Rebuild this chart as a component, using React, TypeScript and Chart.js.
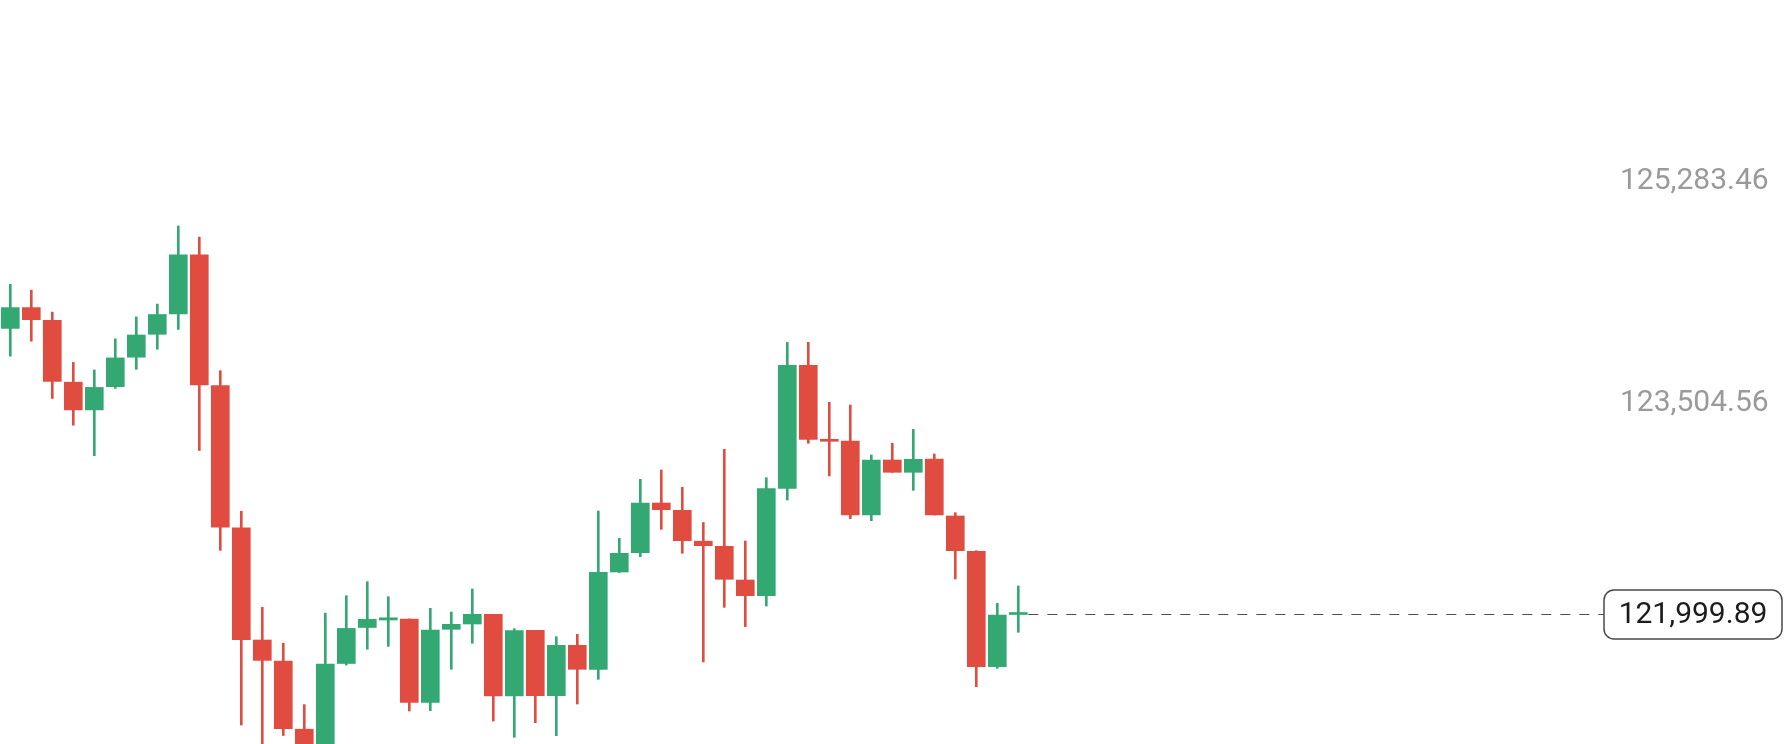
import React, { useEffect, useRef } from 'react';
import { Chart, registerables } from 'chart.js';

Chart.register(...registerables);

// OHLC values (one entry per candle, oldest first)
const opens = [
  124284.69, 124451.09, 124348.69, 123854.29, 123632.69, 123818.29, 124054.29, 124237.49, 124401.49, 124873.49,
  123827.09, 122688.69, 121791.89, 121623.89, 121078.29, 120895.89, 121603.89, 121891.89, 121951.89, 121959.89,
  121293.49, 121877.49, 121919.89, 121997.49, 121343.89, 121869.49, 121346.29, 121749.49, 121557.49, 122335.89,
  122490.29, 122887.89, 122829.49, 122582.29, 122541.49, 122271.89, 122146.29, 123005.49, 123989.49, 123397.49,
  123383.89, 122791.89, 123231.89, 123133.49, 123239.89, 122783.89, 122501.49, 121578.29, 121995.89,
];
const highs = [
  124637.49, 124590.29, 124415.09, 124012.69, 123951.89, 124201.49, 124376.69, 124479.09, 125103.89, 125015.09,
  123946.29, 122822.29, 122054.29, 121766.29, 121275.09, 122007.09, 122146.29, 122258.29, 122138.29, 121959.89,
  122045.49, 122015.89, 122199.89, 121997.49, 121882.29, 121869.49, 121818.29, 121837.49, 122823.89, 122605.49,
  123077.49, 123151.89, 123013.49, 122731.89, 123317.49, 122583.89, 123090.29, 124173.49, 124173.49, 123693.49,
  123671.89, 123271.89, 123365.49, 123477.49, 123279.89, 122810.29, 122506.29, 122085.49, 122223.89,
];
const lows = [
  124063.09, 124182.29, 123723.89, 123510.29, 123266.29, 123804.69, 123957.49, 124118.29, 124276.69, 123307.89,
  122508.69, 121111.89, 120831.89, 121027.89, 120735.89, 120767.89, 121591.89, 121718.29, 121740.69, 121223.89,
  121226.29, 121557.49, 121765.49, 121143.89, 121013.49, 121130.29, 121026.29, 121279.89, 121477.49, 122331.89,
  122458.29, 122677.49, 122485.49, 121615.89, 122053.49, 121898.29, 122063.89, 122911.89, 123365.49, 123103.89,
  122762.29, 122746.29, 123133.49, 122989.49, 122791.89, 122279.89, 121418.29, 121565.49, 121853.49,
];
const closes = [
  124451.09, 124354.29, 123859.89, 123632.69, 123812.69, 124048.69, 124231.89, 124395.89, 124873.49, 123832.69,
  122694.29, 121795.09, 121628.69, 121082.29, 120895.89, 121599.09, 121884.69, 121957.49, 121969.49, 121293.49,
  121871.89, 121917.49, 121997.49, 121343.89, 121866.29, 121346.29, 121749.49, 121557.49, 122333.49, 122485.49,
  122887.89, 122834.29, 122586.29, 122546.29, 122277.49, 122146.29, 123002.29, 123989.49, 123397.49, 123381.49,
  122791.89, 123231.89, 123133.49, 123237.49, 122791.89, 122506.29, 121578.29, 121991.89, 121999.89,
];

// Price axis labels and visible range
const yTickValues = [125283.46, 123504.56];
const yMin = 120959.89;
const yMax = 126911.89;
const lastPrice = 121999.89;

const UP = '#33A873';
const DOWN = '#E04D40';
const FONT = 'Roboto, "Noto Sans", sans-serif';

const fmt = (v: number) =>
  v.toLocaleString('en-US', { minimumFractionDigits: 2, maximumFractionDigits: 2 });

export default function App() {
  const ref = useRef<HTMLCanvasElement>(null);

  useEffect(() => {
    if (!ref.current) return;
    const n = opens.length;
    const colors = opens.map((o, i) => (closes[i] >= o ? UP : DOWN));
    const bodies = opens.map((o, i) => ({ x: i, y: [o, closes[i]] }));
    const wicks = opens.map((o, i) => ({ x: i, y: [lows[i], highs[i]] }));

    const lastPricePlugin = {
      id: 'lastPrice',
      afterDatasetsDraw(chart: any) {
        const { ctx, scales } = chart;
        const xs = scales.x;
        const ys = scales.y;
        const py = Math.round(ys.getPixelForValue(lastPrice)) + 0.5;
        const startX = xs.getPixelForValue(n - 1) + 10;
        const boxL = ys.left + 5;
        const boxR = chart.width - 7;
        const boxH = 49;
        const boxT = py - boxH / 2;
        ctx.save();
        ctx.strokeStyle = '#4e4e4e';
        ctx.lineWidth = 1;
        ctx.setLineDash([10, 9]);
        ctx.beginPath();
        ctx.moveTo(startX, py);
        ctx.lineTo(boxL, py);
        ctx.stroke();
        ctx.setLineDash([]);
        ctx.beginPath();
        ctx.roundRect(boxL, boxT, boxR - boxL, boxH, 10);
        ctx.fillStyle = '#ffffff';
        ctx.fill();
        ctx.lineWidth = 1.5;
        ctx.strokeStyle = '#4a4a4a';
        ctx.stroke();
        ctx.fillStyle = '#1c1c1c';
        ctx.font = `30px ${FONT}`;
        ctx.textAlign = 'center';
        ctx.textBaseline = 'middle';
        ctx.fillText(fmt(lastPrice), (boxL + boxR) / 2, py + 1);
        ctx.restore();
      },
    };

    const axisWidth = 190;
    const spacing = 21;
    const firstCenter = 10.3;
    const plotWidth = 1789 - axisWidth;
    const xMin = -firstCenter / spacing;
    const xMax = xMin + plotWidth / spacing;

    const chart = new Chart(ref.current, {
      type: 'bar',
      data: {
        datasets: [
          {
            data: bodies as any,
            backgroundColor: colors,
            borderWidth: 0,
            barThickness: 18,
            minBarLength: 2,
            grouped: false,
          } as any,
          {
            data: wicks as any,
            backgroundColor: colors,
            borderWidth: 0,
            barThickness: 2,
            grouped: false,
          } as any,
        ],
      },
      options: {
        animation: false,
        responsive: false,
        maintainAspectRatio: false,
        devicePixelRatio: 1,
        layout: { padding: 0 },
        plugins: { legend: { display: false }, tooltip: { enabled: false } },
        scales: {
          x: {
            type: 'linear',
            display: false,
            min: xMin,
            max: xMax,
            offset: false,
          },
          y: {
            type: 'linear',
            position: 'right',
            min: yMin,
            max: yMax,
            grid: { display: false, drawTicks: false },
            border: { display: false },
            afterBuildTicks: (scale: any) => {
              scale.ticks = yTickValues.map((value) => ({ value }));
            },
            afterFit: (scale: any) => {
              scale.width = axisWidth;
              scale.paddingTop = 0;
              scale.paddingBottom = 0;
            },
            ticks: {
              autoSkip: false,
              padding: 21,
              labelOffset: -22,
              color: '#9a9a9a',
              font: { family: FONT, size: 30 },
              callback: (v: any) => fmt(Number(v)),
            },
          },
        },
      },
      plugins: [lastPricePlugin],
    });

    return () => chart.destroy();
  }, []);

  return (
    <div style={{ position: 'fixed', left: 0, top: 0, width: 1789, height: 744, background: '#ffffff' }}>
      <canvas ref={ref} width={1789} height={744} style={{ display: 'block', width: 1789, height: 744 }} />
    </div>
  );
}
